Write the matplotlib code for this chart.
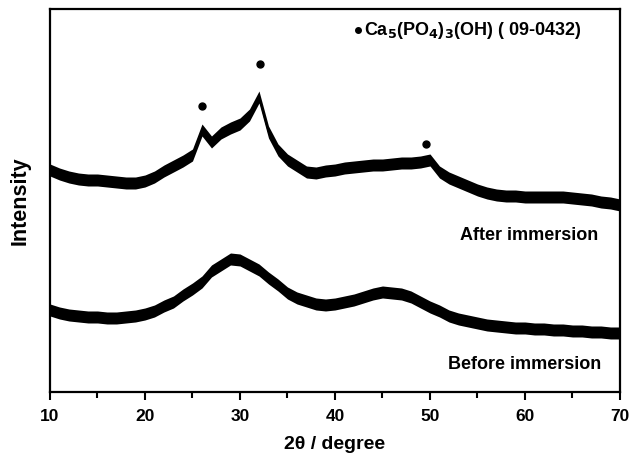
import numpy as np
import matplotlib
matplotlib.use("Agg")
import matplotlib.pyplot as plt
from matplotlib.ticker import MultipleLocator

plt.rcParams['font.family'] = ['Liberation Sans', 'DejaVu Sans']
plt.rcParams['font.weight'] = 'bold'

# 2theta positions (degree)
two_theta = np.arange(10, 71, 1)

# trace centre lines (arbitrary intensity units)
after_immersion = [222, 218, 215, 213, 212, 212, 211, 210, 209, 209,
                   211, 215, 221, 226, 231, 237, 262, 250, 259, 264,
                   268, 277, 295, 260, 242, 232, 226, 220, 219, 221,
                   222, 224, 225, 226, 227, 227, 228, 229, 229, 230,
                   232, 220, 214, 210, 206, 202, 199, 197, 196, 196,
                   195, 195, 195, 195, 195, 194, 193, 192, 190, 189, 187]
before_immersion = [82, 79, 77, 76, 75, 75, 74, 74, 75, 76,
                    78, 81, 86, 90, 97, 103, 110, 121, 127, 133,
                    132, 127, 122, 114, 107, 99, 94, 91, 88, 87,
                    88, 90, 92, 95, 98, 100, 99, 98, 95, 90,
                    85, 81, 76, 73, 71, 69, 67, 66, 65, 64,
                    64, 63, 63, 62, 62, 61, 61, 60, 60, 59, 59]
# half width of the noise band
after_spread = 6
before_spread = 6

# hydroxyapatite peak markers
hap_peaks = [26.0, 32.1, 49.6]
hap_heights = [286, 328, 248]

fig = plt.figure(figsize=(6.32, 4.53), dpi=100)
ax = fig.add_axes([0.0791, 0.1347, 0.9019, 0.8454])

a = np.array(after_immersion)
b = np.array(before_immersion)
ax.fill_between(two_theta, a - after_spread, a + after_spread, color='black', lw=0)
ax.plot(two_theta, a, color='black', lw=1)
ax.fill_between(two_theta, b - before_spread, b + before_spread, color='black', lw=0)
ax.plot(two_theta, b, color='black', lw=1)

ax.plot(hap_peaks, hap_heights, 'o', color='black', markersize=5)
ax.plot([42.4], [362], 'o', color='black', markersize=4)
ax.text(43.1, 362, r'Ca$_\mathbf{5}$(PO$_\mathbf{4}$)$_\mathbf{3}$(OH) ( 09-0432)',
        fontsize=13, fontweight='bold', va='center', ha='left')

ax.text(60.4, 156, 'After immersion', fontsize=13, fontweight='bold', ha='center', va='center')
ax.text(60.0, 27, 'Before immersion', fontsize=13, fontweight='bold', ha='center', va='center')

ax.set_xlim(10, 70)
ax.set_ylim(0, 383)
ax.xaxis.set_major_locator(MultipleLocator(10))
ax.xaxis.set_minor_locator(MultipleLocator(5))
ax.tick_params(axis='x', which='major', direction='out', length=6, width=1.5, labelsize=12.5, pad=6)
ax.tick_params(axis='x', which='minor', direction='out', length=4, width=1.5)
ax.set_yticks([])
for s in ax.spines.values():
    s.set_linewidth(1.6)

ax.set_xlabel('2θ / degree', fontsize=14, fontweight='bold', labelpad=9)
ax.set_ylabel('Intensity', fontsize=15.5, fontweight='bold', labelpad=14)

fig.savefig('out.png', dpi=100)
